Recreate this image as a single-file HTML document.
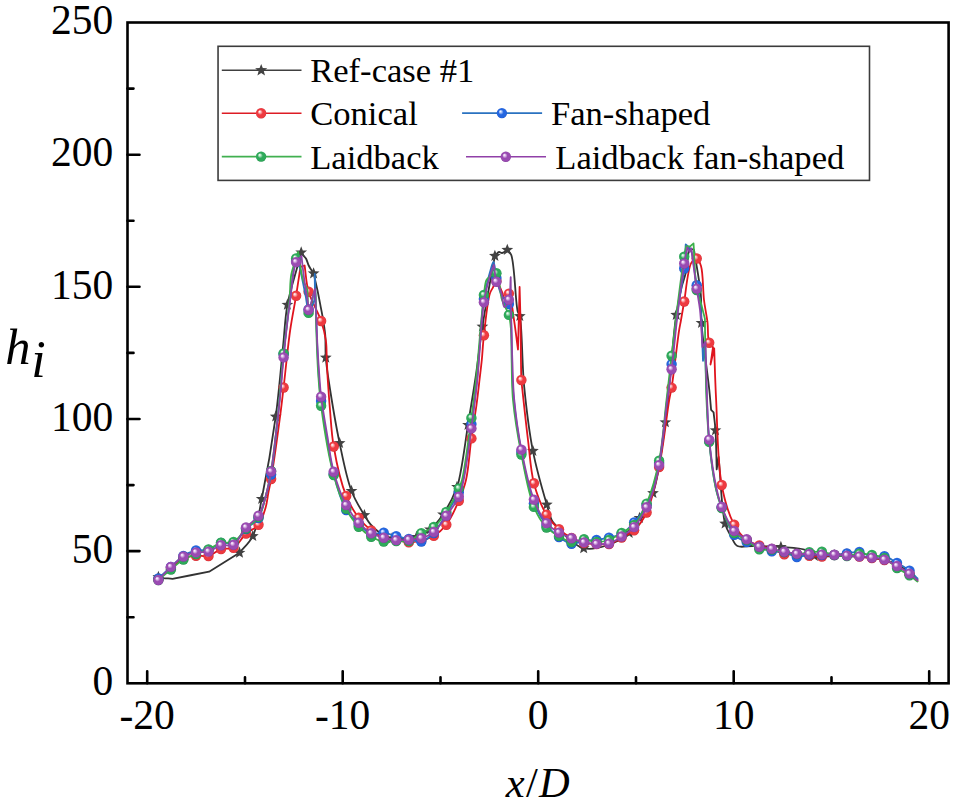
<!DOCTYPE html>
<html><head><meta charset="utf-8"><title>h_i vs x/D</title>
<style>html,body{margin:0;padding:0;background:#fff;width:956px;height:805px;overflow:hidden}
svg{display:block;font-family:"Liberation Serif",serif}</style></head>
<body><svg width="956" height="805" viewBox="0 0 956 805" font-family="Liberation Serif, serif"><defs>
<radialGradient id="gR" cx="0.5" cy="0.5" r="0.5" fx="0.34" fy="0.32"><stop offset="0" stop-color="#ffffff"/><stop offset="0.16" stop-color="#ffd0d2"/><stop offset="0.5" stop-color="#ee3a40"/><stop offset="0.88" stop-color="#ee3a40"/><stop offset="1" stop-color="#d02a30"/></radialGradient>
<radialGradient id="gB" cx="0.5" cy="0.5" r="0.5" fx="0.34" fy="0.32"><stop offset="0" stop-color="#ffffff"/><stop offset="0.16" stop-color="#c4d8ff"/><stop offset="0.5" stop-color="#2466e0"/><stop offset="0.88" stop-color="#2466e0"/><stop offset="1" stop-color="#1a52c4"/></radialGradient>
<radialGradient id="gG" cx="0.5" cy="0.5" r="0.5" fx="0.34" fy="0.32"><stop offset="0" stop-color="#ffffff"/><stop offset="0.16" stop-color="#c8ecd4"/><stop offset="0.5" stop-color="#2eaa5a"/><stop offset="0.88" stop-color="#2eaa5a"/><stop offset="1" stop-color="#1f9048"/></radialGradient>
<radialGradient id="gP" cx="0.5" cy="0.5" r="0.5" fx="0.34" fy="0.32"><stop offset="0" stop-color="#ffffff"/><stop offset="0.16" stop-color="#ecd4f4"/><stop offset="0.5" stop-color="#9a4bb2"/><stop offset="0.88" stop-color="#9a4bb2"/><stop offset="1" stop-color="#843c9c"/></radialGradient>
</defs><rect x="127.5" y="22.5" width="821.1" height="660.8" fill="none" stroke="#000" stroke-width="2.6"/><path d="M127.5 617.2H133.5 M127.5 551.1H139.5 M127.5 485.1H133.5 M127.5 419.0H139.5 M127.5 352.9H133.5 M127.5 286.8H139.5 M127.5 220.8H133.5 M127.5 154.7H139.5 M127.5 88.6H133.5 M147.2 683.3V671.3 M245.0 683.3V677.3 M342.7 683.3V671.3 M440.5 683.3V677.3 M538.2 683.3V671.3 M636.0 683.3V677.3 M733.7 683.3V671.3 M831.5 683.3V677.3 M929.2 683.3V671.3" stroke="#000" stroke-width="2.6" stroke-linecap="round" fill="none"/><text x="113.3" y="695.3" text-anchor="end" font-size="41.5">0</text><text x="113.3" y="563.3" text-anchor="end" font-size="41.5">50</text><text x="113.3" y="430.8" text-anchor="end" font-size="41.5">100</text><text x="113.3" y="298.8" text-anchor="end" font-size="41.5">150</text><text x="113.3" y="166.2" text-anchor="end" font-size="41.5">200</text><text x="113.3" y="33.9" text-anchor="end" font-size="41.5">250</text><text x="147.2" y="728.7" text-anchor="middle" font-size="41.5">-20</text><text x="342.7" y="728.7" text-anchor="middle" font-size="41.5">-10</text><text x="538.2" y="728.7" text-anchor="middle" font-size="41.5">0</text><text x="733.7" y="728.7" text-anchor="middle" font-size="41.5">10</text><text x="929.2" y="728.7" text-anchor="middle" font-size="41.5">20</text><text x="5.3" y="364.3" font-size="50.5" font-style="italic">h</text><text x="31.2" y="376.5" font-size="52" font-style="italic">i</text><text x="538.3" y="797.3" text-anchor="middle" font-size="42.5" letter-spacing="1.2"><tspan font-style="italic">x</tspan>/<tspan font-style="italic">D</tspan></text><rect x="218.05" y="46.3" width="651.45" height="134.1" fill="#fff" stroke="#3c3c3c" stroke-width="1.6"/><path d="M221.8 70.3H301.5" stroke="#404040" stroke-width="1.6"/><polygon points="261.2,63.9 262.8,68.1 267.3,68.3 263.8,71.1 265.0,75.5 261.2,73.0 257.4,75.5 258.6,71.1 255.1,68.3 259.6,68.1" fill="#424242"/><text x="310.2" y="82.3" font-size="34.6">Ref-case #1</text><path d="M221.8 113.3H301.5" stroke="#dd1c24" stroke-width="1.6"/><circle cx="261.1" cy="113.3" r="5.2" fill="url(#gR)"/><text x="310.2" y="125.3" font-size="34.6">Conical</text><path d="M221.8 156.6H301.5" stroke="#40b050" stroke-width="1.6"/><circle cx="261.1" cy="156.6" r="5.2" fill="url(#gG)"/><text x="310.2" y="168.6" font-size="34.6">Laidback</text><path d="M462.1 113.1H542.1" stroke="#2a72c0" stroke-width="1.6"/><circle cx="501.9" cy="113.1" r="5.2" fill="url(#gB)"/><text x="551.0" y="125.1" font-size="34.6">Fan-shaped</text><path d="M466.0 156.7H546.0" stroke="#9040a8" stroke-width="1.6"/><circle cx="505.8" cy="156.7" r="5.2" fill="url(#gP)"/><text x="555.3" y="168.7" font-size="34.6">Laidback fan-shaped</text><path d="M158.4 577.0 C160.1 577.4 161.9 577.7 163.6 578.1 C166.6 578.3 169.5 578.6 172.5 578.8 C184.7 576.4 196.9 574.1 209.1 571.7 C219.2 565.4 229.4 559.1 239.5 552.8 C243.9 547.2 249.3 543.2 252.8 536.1 C257.5 526.6 258.7 513.9 261.7 499.0 C266.2 477.0 272.1 443.0 275.7 416.6 C279.0 392.4 280.9 367.1 283.0 346.8 C284.7 331.0 284.9 318.3 287.4 304.8 C289.8 291.8 294.7 276.6 297.3 267.0 C298.9 261.0 299.9 257.3 301.2 252.5 C302.0 253.5 302.7 254.5 303.5 255.5 C304.3 256.5 305.2 257.2 306.0 258.5 C307.0 260.3 307.8 263.6 308.7 265.5 C309.4 266.9 309.9 267.8 310.7 269.0 C311.6 270.4 312.6 271.9 313.6 273.4 C314.9 278.9 316.2 284.4 317.4 290.0 C318.6 295.6 319.8 302.1 320.7 306.8 C321.4 310.2 321.8 312.2 322.4 315.7 C323.3 320.8 324.6 328.0 325.2 334.7 C325.8 342.0 325.2 350.1 325.8 357.7 C326.4 365.2 327.2 370.7 328.6 380.0 C331.0 395.7 335.5 423.6 339.6 443.1 C343.2 460.2 346.5 478.0 351.5 491.0 C355.2 500.7 360.7 509.1 364.4 515.2 C366.8 519.2 368.3 521.8 370.8 524.7 C373.3 527.6 376.1 530.4 379.5 532.6 C383.1 535.0 387.0 537.5 392.0 538.5 C398.7 539.8 409.7 539.0 416.5 537.0 C421.9 535.4 425.8 532.9 430.0 529.5 C434.7 525.7 438.9 520.5 443.0 514.5 C448.1 507.0 454.0 495.2 457.0 487.0 C459.3 480.8 459.6 477.1 461.0 470.0 C463.2 458.6 465.6 440.2 468.0 425.0 C470.4 409.5 473.1 394.0 475.5 378.0 C478.0 361.3 479.9 342.8 482.4 326.6 C484.6 312.0 487.3 297.6 489.5 285.0 C491.4 274.4 493.1 265.6 494.9 255.9 C496.3 254.6 497.6 252.3 499.0 252.0 C500.0 251.8 500.9 253.1 502.0 253.0 C503.5 252.8 505.5 250.9 507.3 249.9 C508.6 251.6 510.0 252.1 511.2 254.9 C514.7 263.4 515.4 303.2 517.7 311.5 C518.4 314.0 519.2 313.6 519.8 316.1 C522.2 325.6 521.9 363.9 524.2 386.8 C526.4 408.7 528.9 430.6 532.9 450.9 C536.6 469.7 543.1 492.1 546.8 504.6 C548.8 511.4 549.9 516.5 551.9 520.3 C553.2 522.8 554.4 523.7 556.3 525.9 C559.5 529.6 565.2 536.2 570.0 540.0 C574.4 543.4 578.4 547.0 583.7 548.2 C589.8 549.6 597.9 548.2 605.0 546.0 C613.1 543.5 623.3 538.3 629.2 533.0 C634.0 528.7 636.0 523.7 639.5 518.0 C643.9 510.8 649.2 503.9 653.0 493.1 C659.0 475.9 661.8 448.4 665.4 422.3 C669.8 390.3 672.6 339.2 676.2 314.9 C678.1 302.3 679.9 294.1 681.8 286.4 C683.1 281.1 684.6 278.2 685.7 273.0 C687.2 266.0 687.9 256.3 689.0 248.0 C690.7 248.7 692.3 249.3 694.0 250.0 C696.3 264.7 699.6 281.0 700.8 294.2 C701.7 304.8 700.7 311.4 701.5 323.0 C702.7 340.7 707.7 374.2 709.3 390.0 C710.2 398.6 710.5 403.3 711.1 409.9 C711.9 410.7 712.8 411.5 713.6 412.3 C714.2 418.3 715.0 423.1 715.5 430.3 C716.2 440.8 716.3 456.4 716.7 469.4 C717.3 465.3 718.0 461.1 718.6 457.0 C720.8 479.2 721.4 510.0 725.1 523.6 C726.8 530.0 729.1 533.1 731.3 537.0 C733.2 540.4 734.3 544.4 737.4 546.0 C741.0 547.9 746.7 545.9 752.5 546.0 C760.5 546.1 771.7 546.3 780.9 547.0 C789.5 547.7 800.1 547.8 806.0 550.1 C809.8 551.6 810.6 554.8 814.4 556.0 C820.4 557.9 830.6 555.6 840.0 556.0 C851.8 556.4 868.6 556.8 879.5 559.0 C887.6 560.7 893.7 562.6 900.0 566.0 C906.5 569.5 912.0 575.3 918.0 580.0" fill="none" stroke="#333333" stroke-width="1.8" stroke-linejoin="round"/><polygon points="158.4,570.8 160.0,574.9 164.3,575.1 160.9,577.8 162.0,582.0 158.4,579.6 154.8,582.0 155.9,577.8 152.5,575.1 156.8,574.9" fill="#424242"/><polygon points="239.5,546.6 241.1,550.7 245.4,550.9 242.0,553.6 243.1,557.8 239.5,555.4 235.9,557.8 237.0,553.6 233.6,550.9 237.9,550.7" fill="#424242"/><polygon points="252.8,529.9 254.4,534.0 258.7,534.2 255.3,536.9 256.4,541.1 252.8,538.8 249.2,541.1 250.3,536.9 246.9,534.2 251.2,534.0" fill="#424242"/><polygon points="261.7,492.8 263.3,496.9 267.6,497.1 264.2,499.8 265.3,504.0 261.7,501.6 258.1,504.0 259.2,499.8 255.8,497.1 260.1,496.9" fill="#424242"/><polygon points="275.7,410.4 277.3,414.5 281.6,414.7 278.2,417.4 279.3,421.6 275.7,419.2 272.1,421.6 273.2,417.4 269.8,414.7 274.1,414.5" fill="#424242"/><polygon points="287.4,298.6 289.0,302.7 293.3,302.9 289.9,305.6 291.0,309.8 287.4,307.4 283.8,309.8 284.9,305.6 281.5,302.9 285.8,302.7" fill="#424242"/><polygon points="301.2,246.3 302.8,250.4 307.1,250.6 303.7,253.3 304.8,257.5 301.2,255.2 297.6,257.5 298.7,253.3 295.3,250.6 299.6,250.4" fill="#424242"/><polygon points="313.6,267.2 315.2,271.3 319.5,271.5 316.1,274.2 317.2,278.4 313.6,276.0 310.0,278.4 311.1,274.2 307.7,271.5 312.0,271.3" fill="#424242"/><polygon points="325.8,351.5 327.4,355.6 331.7,355.8 328.3,358.5 329.4,362.7 325.8,360.3 322.2,362.7 323.3,358.5 319.9,355.8 324.2,355.6" fill="#424242"/><polygon points="339.6,436.9 341.2,441.0 345.5,441.2 342.1,443.9 343.2,448.1 339.6,445.8 336.0,448.1 337.1,443.9 333.7,441.2 338.0,441.0" fill="#424242"/><polygon points="351.5,484.8 353.1,488.9 357.4,489.1 354.0,491.8 355.1,496.0 351.5,493.6 347.9,496.0 349.0,491.8 345.6,489.1 349.9,488.9" fill="#424242"/><polygon points="364.4,509.0 366.0,513.1 370.3,513.3 366.9,516.0 368.0,520.2 364.4,517.9 360.8,520.2 361.9,516.0 358.5,513.3 362.8,513.1" fill="#424242"/><polygon points="392.0,532.3 393.6,536.4 397.9,536.6 394.5,539.3 395.6,543.5 392.0,541.1 388.4,543.5 389.5,539.3 386.1,536.6 390.4,536.4" fill="#424242"/><polygon points="416.5,530.8 418.1,534.9 422.4,535.1 419.0,537.8 420.1,542.0 416.5,539.6 412.9,542.0 414.0,537.8 410.6,535.1 414.9,534.9" fill="#424242"/><polygon points="430.0,523.3 431.6,527.4 435.9,527.6 432.5,530.3 433.6,534.5 430.0,532.1 426.4,534.5 427.5,530.3 424.1,527.6 428.4,527.4" fill="#424242"/><polygon points="443.0,508.3 444.6,512.4 448.9,512.6 445.5,515.3 446.6,519.5 443.0,517.1 439.4,519.5 440.5,515.3 437.1,512.6 441.4,512.4" fill="#424242"/><polygon points="457.0,480.8 458.6,484.9 462.9,485.1 459.5,487.8 460.6,492.0 457.0,489.6 453.4,492.0 454.5,487.8 451.1,485.1 455.4,484.9" fill="#424242"/><polygon points="468.0,418.8 469.6,422.9 473.9,423.1 470.5,425.8 471.6,430.0 468.0,427.6 464.4,430.0 465.5,425.8 462.1,423.1 466.4,422.9" fill="#424242"/><polygon points="482.4,320.4 484.0,324.5 488.3,324.7 484.9,327.4 486.0,331.6 482.4,329.2 478.8,331.6 479.9,327.4 476.5,324.7 480.8,324.5" fill="#424242"/><polygon points="494.9,249.7 496.5,253.8 500.8,254.0 497.4,256.7 498.5,260.9 494.9,258.6 491.3,260.9 492.4,256.7 489.0,254.0 493.3,253.8" fill="#424242"/><polygon points="507.3,243.7 508.9,247.8 513.2,248.0 509.8,250.7 510.9,254.9 507.3,252.6 503.7,254.9 504.8,250.7 501.4,248.0 505.7,247.8" fill="#424242"/><polygon points="519.8,309.9 521.4,314.0 525.7,314.2 522.3,316.9 523.4,321.1 519.8,318.8 516.2,321.1 517.3,316.9 513.9,314.2 518.2,314.0" fill="#424242"/><polygon points="532.9,444.7 534.5,448.8 538.8,449.0 535.4,451.7 536.5,455.9 532.9,453.5 529.3,455.9 530.4,451.7 527.0,449.0 531.3,448.8" fill="#424242"/><polygon points="546.8,498.4 548.4,502.5 552.7,502.7 549.3,505.4 550.4,509.6 546.8,507.2 543.2,509.6 544.3,505.4 540.9,502.7 545.2,502.5" fill="#424242"/><polygon points="583.7,542.0 585.3,546.1 589.6,546.3 586.2,549.0 587.3,553.2 583.7,550.9 580.1,553.2 581.2,549.0 577.8,546.3 582.1,546.1" fill="#424242"/><polygon points="629.2,526.8 630.8,530.9 635.1,531.1 631.7,533.8 632.8,538.0 629.2,535.6 625.6,538.0 626.7,533.8 623.3,531.1 627.6,530.9" fill="#424242"/><polygon points="639.5,511.8 641.1,515.9 645.4,516.1 642.0,518.8 643.1,523.0 639.5,520.6 635.9,523.0 637.0,518.8 633.6,516.1 637.9,515.9" fill="#424242"/><polygon points="653.0,486.9 654.6,491.0 658.9,491.2 655.5,493.9 656.6,498.1 653.0,495.8 649.4,498.1 650.5,493.9 647.1,491.2 651.4,491.0" fill="#424242"/><polygon points="665.4,416.1 667.0,420.2 671.3,420.4 667.9,423.1 669.0,427.3 665.4,424.9 661.8,427.3 662.9,423.1 659.5,420.4 663.8,420.2" fill="#424242"/><polygon points="676.2,308.7 677.8,312.8 682.1,313.0 678.7,315.7 679.8,319.9 676.2,317.5 672.6,319.9 673.7,315.7 670.3,313.0 674.6,312.8" fill="#424242"/><polygon points="701.5,316.8 703.1,320.9 707.4,321.1 704.0,323.8 705.1,328.0 701.5,325.6 697.9,328.0 699.0,323.8 695.6,321.1 699.9,320.9" fill="#424242"/><polygon points="715.5,424.1 717.1,428.2 721.4,428.4 718.0,431.1 719.1,435.3 715.5,432.9 711.9,435.3 713.0,431.1 709.6,428.4 713.9,428.2" fill="#424242"/><polygon points="725.1,517.4 726.7,521.5 731.0,521.7 727.6,524.4 728.7,528.6 725.1,526.2 721.5,528.6 722.6,524.4 719.2,521.7 723.5,521.5" fill="#424242"/><polygon points="780.9,540.8 782.5,544.9 786.8,545.1 783.4,547.8 784.5,552.0 780.9,549.6 777.3,552.0 778.4,547.8 775.0,545.1 779.3,544.9" fill="#424242"/><polygon points="814.4,549.8 816.0,553.9 820.3,554.1 816.9,556.8 818.0,561.0 814.4,558.6 810.8,561.0 811.9,556.8 808.5,554.1 812.8,553.9" fill="#424242"/><path d="M158.4 579.0 C162.6 575.3 166.7 571.5 170.9 568.0 C175.0 564.6 179.0 560.5 183.4 558.5 C187.4 556.7 191.8 556.1 196.0 555.7 C200.1 555.3 204.4 557.0 208.5 556.0 C212.8 554.9 216.7 550.5 221.0 549.1 C225.0 547.8 229.7 549.8 233.5 547.8 C238.2 545.4 241.6 537.5 246.0 533.5 C250.0 530.0 255.4 528.8 258.5 524.8 C262.0 520.5 263.8 513.6 265.5 508.0 C267.1 502.7 267.5 497.1 268.5 492.0 C269.4 487.4 270.1 484.9 271.1 479.0 C273.2 466.5 277.4 436.8 279.6 420.0 C281.3 407.6 282.1 399.9 283.6 387.5 C285.5 371.1 287.8 346.7 290.2 330.0 C292.1 317.1 294.3 306.7 296.1 295.8 C297.7 285.8 299.0 276.5 300.5 266.9 C301.9 266.4 303.2 266.0 304.6 265.5 C305.9 274.3 306.1 283.0 308.6 291.8 C311.4 301.5 318.2 312.2 321.1 321.0 C323.4 327.9 324.9 333.5 325.8 340.0 C326.8 346.5 326.5 353.3 326.8 360.0 C327.1 366.7 327.3 372.7 327.8 380.0 C328.4 389.0 329.1 399.5 330.0 410.0 C331.0 421.6 331.4 433.5 333.7 446.5 C336.3 461.8 341.0 483.0 346.2 495.9 C349.8 505.0 354.1 511.7 358.7 517.8 C362.6 522.9 366.8 527.1 371.2 530.5 C375.2 533.5 379.4 535.9 383.7 537.5 C387.8 539.0 392.1 539.2 396.2 540.0 C400.4 540.8 404.6 542.3 408.8 542.4 C412.9 542.5 417.2 541.6 421.3 540.5 C425.5 539.4 429.8 538.3 433.8 535.9 C438.2 533.2 442.5 529.6 446.3 524.7 C451.1 518.5 455.5 508.5 458.8 500.7 C461.9 493.7 464.1 488.2 466.0 480.0 C468.7 468.6 469.5 451.5 471.4 438.4 C473.0 426.6 475.1 415.3 476.5 405.0 C477.7 396.1 478.6 387.9 479.5 380.0 C480.3 373.0 481.1 367.0 481.8 360.0 C482.6 352.2 482.8 344.6 483.9 335.3 C485.2 323.2 487.5 301.1 489.9 293.6 C490.8 290.6 491.9 289.6 492.9 287.6 C494.0 285.4 495.1 281.0 496.4 281.0 C498.0 281.0 500.5 288.9 502.0 292.0 C503.1 294.3 503.3 297.8 504.5 298.0 C505.6 298.2 507.7 293.2 508.9 293.6 C511.4 294.3 512.2 308.8 513.6 317.4 C515.3 327.3 516.5 338.9 518.0 349.6 C518.5 328.7 519.1 307.9 519.6 287.0 C519.9 298.0 520.2 307.4 520.5 320.0 C520.9 337.0 520.8 368.4 521.4 380.0 C521.7 384.7 521.9 385.4 522.4 390.0 C523.5 400.3 526.0 423.9 528.0 440.0 C529.9 455.0 530.5 470.2 533.9 483.3 C537.0 494.8 541.5 506.5 546.5 514.7 C550.2 520.8 554.5 525.2 559.0 529.2 C562.9 532.8 567.2 535.7 571.5 538.0 C575.5 540.2 579.8 542.0 584.0 543.0 C588.1 544.0 592.4 543.8 596.5 544.0 C600.7 544.2 605.0 545.0 609.0 544.0 C613.4 542.9 617.4 539.8 621.6 537.5 C625.8 535.2 630.3 533.8 634.1 530.3 C638.8 526.0 643.0 520.2 646.6 512.5 C651.9 501.2 655.6 483.7 659.1 467.0 C663.4 446.9 666.9 413.4 669.2 400.0 C670.2 394.2 670.7 393.3 671.6 387.6 C673.6 375.6 677.2 342.5 679.0 331.0 C679.8 325.9 680.3 324.1 681.0 320.0 C681.9 314.6 682.9 308.8 684.2 301.5 C686.0 291.0 687.6 269.2 691.3 262.9 C692.9 260.3 695.1 258.2 696.7 258.5 C698.4 258.8 699.9 262.4 701.0 266.0 C703.2 273.1 702.8 289.9 704.0 300.0 C705.0 308.2 706.6 314.9 707.5 322.2 C708.3 329.2 707.4 338.6 709.2 342.8 C710.1 345.0 711.7 345.7 713.0 347.1 C712.2 352.9 711.3 358.7 710.5 364.5 C711.7 359.1 713.0 353.8 714.2 348.4 C714.8 365.4 715.1 380.1 716.1 399.3 C717.4 424.2 717.4 462.1 721.7 485.0 C724.7 501.0 728.9 514.9 734.2 524.7 C737.9 531.4 742.1 536.5 746.7 540.0 C750.6 542.9 755.0 543.9 759.3 545.4 C763.4 546.9 767.7 547.6 771.8 549.0 C776.0 550.5 780.0 553.4 784.3 554.2 C788.4 555.0 792.7 553.7 796.8 554.0 C801.0 554.3 805.2 555.5 809.3 555.9 C813.5 556.3 817.7 556.6 821.9 556.5 C826.0 556.4 830.2 555.4 834.4 555.0 C838.5 554.6 842.7 553.8 846.9 554.0 C851.1 554.2 855.2 555.8 859.4 556.5 C863.6 557.2 867.8 557.4 871.9 558.0 C876.1 558.6 880.4 558.7 884.4 560.0 C888.7 561.3 892.8 563.8 897.0 566.0 C901.2 568.3 905.9 570.9 909.5 573.6 C912.6 575.9 914.8 578.5 917.5 581.0" fill="none" stroke="#e0141e" stroke-width="1.8" stroke-linejoin="round" stroke-linecap="round"/><circle cx="158.4" cy="579.0" r="5.2" fill="url(#gR)"/><circle cx="170.9" cy="568.0" r="5.2" fill="url(#gR)"/><circle cx="183.4" cy="558.5" r="5.2" fill="url(#gR)"/><circle cx="196.0" cy="555.7" r="5.2" fill="url(#gR)"/><circle cx="208.5" cy="556.0" r="5.2" fill="url(#gR)"/><circle cx="221.0" cy="549.1" r="5.2" fill="url(#gR)"/><circle cx="233.5" cy="547.8" r="5.2" fill="url(#gR)"/><circle cx="246.0" cy="533.5" r="5.2" fill="url(#gR)"/><circle cx="258.5" cy="524.8" r="5.2" fill="url(#gR)"/><circle cx="271.1" cy="479.0" r="5.2" fill="url(#gR)"/><circle cx="283.6" cy="387.5" r="5.2" fill="url(#gR)"/><circle cx="296.1" cy="295.8" r="5.2" fill="url(#gR)"/><circle cx="308.6" cy="291.8" r="5.2" fill="url(#gR)"/><circle cx="321.1" cy="321.0" r="5.2" fill="url(#gR)"/><circle cx="333.7" cy="446.5" r="5.2" fill="url(#gR)"/><circle cx="346.2" cy="495.9" r="5.2" fill="url(#gR)"/><circle cx="358.7" cy="517.8" r="5.2" fill="url(#gR)"/><circle cx="371.2" cy="530.5" r="5.2" fill="url(#gR)"/><circle cx="383.7" cy="537.5" r="5.2" fill="url(#gR)"/><circle cx="396.2" cy="540.0" r="5.2" fill="url(#gR)"/><circle cx="408.8" cy="542.4" r="5.2" fill="url(#gR)"/><circle cx="421.3" cy="540.5" r="5.2" fill="url(#gR)"/><circle cx="433.8" cy="535.9" r="5.2" fill="url(#gR)"/><circle cx="446.3" cy="524.7" r="5.2" fill="url(#gR)"/><circle cx="458.8" cy="500.7" r="5.2" fill="url(#gR)"/><circle cx="471.4" cy="438.4" r="5.2" fill="url(#gR)"/><circle cx="483.9" cy="335.3" r="5.2" fill="url(#gR)"/><circle cx="496.4" cy="281.0" r="5.2" fill="url(#gR)"/><circle cx="508.9" cy="293.6" r="5.2" fill="url(#gR)"/><circle cx="521.4" cy="380.0" r="5.2" fill="url(#gR)"/><circle cx="533.9" cy="483.3" r="5.2" fill="url(#gR)"/><circle cx="546.5" cy="514.7" r="5.2" fill="url(#gR)"/><circle cx="559.0" cy="529.2" r="5.2" fill="url(#gR)"/><circle cx="571.5" cy="538.0" r="5.2" fill="url(#gR)"/><circle cx="584.0" cy="543.0" r="5.2" fill="url(#gR)"/><circle cx="596.5" cy="544.0" r="5.2" fill="url(#gR)"/><circle cx="609.0" cy="544.0" r="5.2" fill="url(#gR)"/><circle cx="621.6" cy="537.5" r="5.2" fill="url(#gR)"/><circle cx="634.1" cy="530.3" r="5.2" fill="url(#gR)"/><circle cx="646.6" cy="512.5" r="5.2" fill="url(#gR)"/><circle cx="659.1" cy="467.0" r="5.2" fill="url(#gR)"/><circle cx="671.6" cy="387.6" r="5.2" fill="url(#gR)"/><circle cx="684.2" cy="301.5" r="5.2" fill="url(#gR)"/><circle cx="696.7" cy="258.5" r="5.2" fill="url(#gR)"/><circle cx="709.2" cy="342.8" r="5.2" fill="url(#gR)"/><circle cx="721.7" cy="485.0" r="5.2" fill="url(#gR)"/><circle cx="734.2" cy="524.7" r="5.2" fill="url(#gR)"/><circle cx="746.7" cy="540.0" r="5.2" fill="url(#gR)"/><circle cx="759.3" cy="545.4" r="5.2" fill="url(#gR)"/><circle cx="771.8" cy="549.0" r="5.2" fill="url(#gR)"/><circle cx="784.3" cy="554.2" r="5.2" fill="url(#gR)"/><circle cx="796.8" cy="554.0" r="5.2" fill="url(#gR)"/><circle cx="809.3" cy="555.9" r="5.2" fill="url(#gR)"/><circle cx="821.9" cy="556.5" r="5.2" fill="url(#gR)"/><circle cx="834.4" cy="555.0" r="5.2" fill="url(#gR)"/><circle cx="846.9" cy="554.0" r="5.2" fill="url(#gR)"/><circle cx="859.4" cy="556.5" r="5.2" fill="url(#gR)"/><circle cx="871.9" cy="558.0" r="5.2" fill="url(#gR)"/><circle cx="884.4" cy="560.0" r="5.2" fill="url(#gR)"/><circle cx="897.0" cy="566.0" r="5.2" fill="url(#gR)"/><circle cx="909.5" cy="573.6" r="5.2" fill="url(#gR)"/><path d="M158.4 578.5 C162.6 574.7 166.7 570.8 170.9 567.0 C175.1 563.3 179.0 558.8 183.4 556.0 C187.4 553.4 191.7 551.4 196.0 550.4 C200.0 549.5 204.4 551.1 208.5 550.0 C212.8 548.8 216.7 544.1 221.0 543.0 C225.0 541.9 229.7 544.7 233.5 543.0 C238.2 540.9 241.7 533.3 246.0 529.0 C250.1 525.0 255.4 522.8 258.5 518.0 C262.2 512.5 263.4 504.2 265.5 497.0 C267.6 489.7 269.4 483.7 271.1 474.5 C273.6 460.3 275.5 439.0 277.5 420.0 C279.7 399.1 281.4 374.9 283.6 354.0 C285.6 335.1 287.7 316.5 290.0 300.0 C291.9 285.9 293.5 261.5 296.1 261.0 C297.3 260.8 298.7 265.7 300.0 268.0 C301.9 277.2 303.7 286.3 305.6 295.5 C306.6 300.2 307.0 309.2 308.6 309.5 C309.9 309.8 312.6 305.5 313.8 302.0 C315.8 295.8 314.5 283.3 314.8 274.0 C315.1 282.7 315.3 290.4 315.6 300.0 C316.0 311.9 316.4 326.7 317.0 340.0 C317.6 353.3 318.2 368.8 319.0 380.0 C319.6 388.1 319.9 391.9 321.1 401.0 C323.5 418.0 328.5 454.1 333.7 474.0 C337.3 488.3 341.0 501.1 346.2 510.0 C349.8 516.2 354.3 519.9 358.7 524.0 C362.7 527.8 366.7 532.7 371.2 534.0 C375.2 535.2 379.6 532.3 383.7 532.7 C387.9 533.1 392.1 535.1 396.2 536.2 C400.4 537.2 404.6 538.1 408.8 539.0 C412.9 539.9 417.3 542.3 421.3 541.5 C425.6 540.6 430.0 536.9 433.8 533.0 C438.5 528.2 442.2 520.6 446.3 514.0 C450.6 507.1 456.0 498.6 458.8 492.3 C460.9 487.7 461.6 485.7 463.0 480.0 C465.9 468.2 468.9 441.6 471.4 424.1 C473.5 408.5 475.2 396.9 477.0 380.0 C479.4 357.1 480.8 318.7 483.9 299.0 C485.7 287.5 488.1 278.8 490.0 272.0 C491.2 267.8 492.5 261.9 493.5 262.0 C494.7 262.1 495.1 272.6 496.4 278.0 C497.8 283.9 499.4 291.4 502.0 296.0 C503.9 299.4 507.4 300.6 508.9 304.0 C510.8 308.2 510.4 312.8 511.0 320.0 C512.2 335.1 511.1 367.4 513.0 390.0 C514.7 411.3 517.7 432.4 521.4 452.0 C524.8 470.1 528.6 490.3 533.9 503.5 C537.6 512.5 541.8 519.1 546.5 525.0 C550.3 529.9 554.6 533.8 559.0 537.0 C563.0 539.9 567.2 543.1 571.5 543.7 C575.6 544.3 579.8 541.6 584.0 541.0 C588.2 540.4 592.4 540.6 596.5 540.0 C600.7 539.4 604.9 538.6 609.0 537.6 C613.2 536.6 617.6 536.2 621.6 534.0 C626.1 531.5 630.1 526.9 634.1 522.4 C638.5 517.4 642.9 512.4 646.6 505.0 C651.8 494.4 655.9 478.6 659.1 463.0 C663.1 444.3 664.7 418.1 667.0 400.0 C668.7 386.4 670.1 377.0 671.6 364.1 C673.4 349.0 674.9 331.1 677.0 315.0 C679.1 299.3 682.7 281.5 684.2 268.5 C685.2 259.2 685.2 252.5 685.7 244.5 C686.8 245.4 687.9 246.4 689.0 247.3 C689.7 248.2 690.4 248.5 691.0 250.0 C693.1 255.0 694.9 276.1 696.7 285.3 C697.8 291.3 699.2 294.0 700.0 300.0 C701.3 309.1 701.5 324.2 702.0 335.0 C702.4 344.3 702.7 352.2 703.0 360.8 C703.7 355.5 704.3 350.3 705.0 345.0 C705.5 360.0 705.8 374.5 706.5 390.0 C707.2 406.5 707.6 424.3 709.2 441.0 C710.8 457.3 713.3 476.9 716.0 489.0 C717.7 496.5 719.2 500.4 721.7 507.0 C724.9 515.3 728.9 529.0 734.2 534.8 C737.9 538.8 742.5 539.9 746.7 542.0 C750.8 544.0 755.1 545.4 759.3 547.0 C763.4 548.5 767.6 550.5 771.8 551.3 C775.9 552.1 780.2 551.1 784.3 552.0 C788.6 553.0 792.6 556.7 796.8 557.1 C800.9 557.5 805.1 554.8 809.3 554.5 C813.5 554.2 817.7 554.9 821.9 555.0 C826.0 555.1 830.2 555.2 834.4 555.0 C838.6 554.8 842.7 554.0 846.9 553.5 C851.1 553.0 855.3 551.4 859.4 551.9 C863.7 552.5 867.7 556.3 871.9 557.0 C876.0 557.7 880.4 555.3 884.4 556.2 C888.8 557.2 892.8 560.6 897.0 563.0 C901.2 565.4 905.9 567.8 909.5 570.6 C912.6 573.0 914.8 575.9 917.5 578.5" fill="none" stroke="#2a72c0" stroke-width="1.8" stroke-linejoin="round" stroke-linecap="round"/><circle cx="158.4" cy="578.5" r="5.2" fill="url(#gB)"/><circle cx="170.9" cy="567.0" r="5.2" fill="url(#gB)"/><circle cx="183.4" cy="556.0" r="5.2" fill="url(#gB)"/><circle cx="196.0" cy="550.4" r="5.2" fill="url(#gB)"/><circle cx="208.5" cy="550.0" r="5.2" fill="url(#gB)"/><circle cx="221.0" cy="543.0" r="5.2" fill="url(#gB)"/><circle cx="233.5" cy="543.0" r="5.2" fill="url(#gB)"/><circle cx="246.0" cy="529.0" r="5.2" fill="url(#gB)"/><circle cx="258.5" cy="518.0" r="5.2" fill="url(#gB)"/><circle cx="271.1" cy="474.5" r="5.2" fill="url(#gB)"/><circle cx="283.6" cy="354.0" r="5.2" fill="url(#gB)"/><circle cx="296.1" cy="261.0" r="5.2" fill="url(#gB)"/><circle cx="308.6" cy="309.5" r="5.2" fill="url(#gB)"/><circle cx="321.1" cy="401.0" r="5.2" fill="url(#gB)"/><circle cx="333.7" cy="474.0" r="5.2" fill="url(#gB)"/><circle cx="346.2" cy="510.0" r="5.2" fill="url(#gB)"/><circle cx="358.7" cy="524.0" r="5.2" fill="url(#gB)"/><circle cx="371.2" cy="534.0" r="5.2" fill="url(#gB)"/><circle cx="383.7" cy="532.7" r="5.2" fill="url(#gB)"/><circle cx="396.2" cy="536.2" r="5.2" fill="url(#gB)"/><circle cx="408.8" cy="539.0" r="5.2" fill="url(#gB)"/><circle cx="421.3" cy="541.5" r="5.2" fill="url(#gB)"/><circle cx="433.8" cy="533.0" r="5.2" fill="url(#gB)"/><circle cx="446.3" cy="514.0" r="5.2" fill="url(#gB)"/><circle cx="458.8" cy="492.3" r="5.2" fill="url(#gB)"/><circle cx="471.4" cy="424.1" r="5.2" fill="url(#gB)"/><circle cx="483.9" cy="299.0" r="5.2" fill="url(#gB)"/><circle cx="496.4" cy="278.0" r="5.2" fill="url(#gB)"/><circle cx="508.9" cy="304.0" r="5.2" fill="url(#gB)"/><circle cx="521.4" cy="452.0" r="5.2" fill="url(#gB)"/><circle cx="533.9" cy="503.5" r="5.2" fill="url(#gB)"/><circle cx="546.5" cy="525.0" r="5.2" fill="url(#gB)"/><circle cx="559.0" cy="537.0" r="5.2" fill="url(#gB)"/><circle cx="571.5" cy="543.7" r="5.2" fill="url(#gB)"/><circle cx="584.0" cy="541.0" r="5.2" fill="url(#gB)"/><circle cx="596.5" cy="540.0" r="5.2" fill="url(#gB)"/><circle cx="609.0" cy="537.6" r="5.2" fill="url(#gB)"/><circle cx="621.6" cy="534.0" r="5.2" fill="url(#gB)"/><circle cx="634.1" cy="522.4" r="5.2" fill="url(#gB)"/><circle cx="646.6" cy="505.0" r="5.2" fill="url(#gB)"/><circle cx="659.1" cy="463.0" r="5.2" fill="url(#gB)"/><circle cx="671.6" cy="364.1" r="5.2" fill="url(#gB)"/><circle cx="684.2" cy="268.5" r="5.2" fill="url(#gB)"/><circle cx="696.7" cy="285.3" r="5.2" fill="url(#gB)"/><circle cx="709.2" cy="441.0" r="5.2" fill="url(#gB)"/><circle cx="721.7" cy="507.0" r="5.2" fill="url(#gB)"/><circle cx="734.2" cy="534.8" r="5.2" fill="url(#gB)"/><circle cx="746.7" cy="542.0" r="5.2" fill="url(#gB)"/><circle cx="759.3" cy="547.0" r="5.2" fill="url(#gB)"/><circle cx="771.8" cy="551.3" r="5.2" fill="url(#gB)"/><circle cx="784.3" cy="552.0" r="5.2" fill="url(#gB)"/><circle cx="796.8" cy="557.1" r="5.2" fill="url(#gB)"/><circle cx="809.3" cy="554.5" r="5.2" fill="url(#gB)"/><circle cx="821.9" cy="555.0" r="5.2" fill="url(#gB)"/><circle cx="834.4" cy="555.0" r="5.2" fill="url(#gB)"/><circle cx="846.9" cy="553.5" r="5.2" fill="url(#gB)"/><circle cx="859.4" cy="551.9" r="5.2" fill="url(#gB)"/><circle cx="871.9" cy="557.0" r="5.2" fill="url(#gB)"/><circle cx="884.4" cy="556.2" r="5.2" fill="url(#gB)"/><circle cx="897.0" cy="563.0" r="5.2" fill="url(#gB)"/><circle cx="909.5" cy="570.6" r="5.2" fill="url(#gB)"/><path d="M158.4 580.0 C162.6 576.5 166.7 572.9 170.9 569.5 C175.1 566.1 179.1 562.1 183.4 559.5 C187.5 557.1 191.8 555.7 196.0 554.0 C200.1 552.3 204.4 551.3 208.5 549.5 C212.7 547.6 216.7 544.0 221.0 542.8 C225.0 541.6 229.7 543.8 233.5 542.0 C238.2 539.8 241.8 532.7 246.0 528.5 C250.1 524.4 255.4 521.8 258.5 517.0 C262.1 511.6 263.5 504.2 265.5 497.0 C267.7 489.0 269.3 481.2 271.1 471.0 C273.5 456.9 275.5 438.1 277.5 420.0 C279.7 399.3 281.5 374.5 283.6 353.5 C285.5 334.7 288.2 314.5 289.5 300.0 C290.4 290.1 289.9 282.4 291.2 275.0 C292.3 268.8 294.8 262.7 296.1 258.4 C296.9 255.7 297.4 254.0 298.1 251.8 C299.7 261.2 301.0 273.3 303.0 280.0 C304.2 283.9 306.1 285.2 307.0 289.0 C308.5 295.0 307.3 312.8 308.6 312.9 C309.9 313.0 313.7 289.8 315.0 290.0 C316.4 290.2 315.6 308.7 316.0 320.0 C316.5 334.6 317.0 354.7 318.0 370.0 C318.8 382.9 319.3 392.0 321.1 405.8 C323.7 425.2 328.5 456.2 333.7 475.0 C337.3 488.5 341.3 499.6 346.2 508.8 C349.9 516.0 354.1 521.9 358.7 526.7 C362.6 530.9 366.8 534.2 371.2 536.7 C375.2 539.0 379.5 540.8 383.7 541.5 C387.8 542.2 392.1 541.1 396.2 541.0 C400.4 540.9 404.7 542.2 408.8 541.0 C413.1 539.7 417.0 535.5 421.3 533.1 C425.4 530.8 429.9 530.0 433.8 527.0 C438.4 523.4 442.4 517.7 446.3 511.9 C450.9 505.1 456.1 494.3 458.8 488.4 C460.4 485.0 460.9 484.2 462.0 480.0 C464.9 468.9 468.9 436.1 471.4 417.9 C473.3 403.7 474.4 395.2 476.0 380.0 C478.4 357.3 481.6 311.7 483.9 295.0 C484.8 287.9 484.9 283.1 486.5 280.0 C487.4 278.2 488.6 277.6 490.0 276.5 C491.7 275.2 494.7 272.4 496.4 273.2 C499.8 274.8 499.5 292.5 502.0 300.0 C503.9 305.8 507.4 309.8 508.9 314.9 C510.3 319.8 510.4 323.1 511.0 330.0 C512.2 344.8 511.0 378.2 513.0 400.0 C514.8 419.4 517.9 436.7 521.4 454.6 C524.9 472.3 528.5 493.8 533.9 506.9 C537.6 515.7 541.7 522.5 546.5 527.5 C550.2 531.5 554.7 533.4 559.0 535.9 C563.1 538.3 567.2 541.6 571.5 542.1 C575.6 542.6 579.8 539.3 584.0 539.3 C588.2 539.3 592.3 541.9 596.5 542.0 C600.7 542.1 605.0 541.4 609.0 540.0 C613.4 538.5 617.4 535.4 621.6 532.9 C625.8 530.4 630.3 528.9 634.1 525.0 C638.9 520.0 642.9 512.2 646.6 503.6 C651.6 492.0 655.9 476.5 659.1 460.8 C662.9 442.4 664.3 418.7 666.5 400.0 C668.4 384.1 669.9 370.7 671.6 355.8 C673.4 340.7 675.0 325.8 677.0 310.0 C679.1 292.9 682.4 267.7 684.2 256.8 C685.0 251.9 685.5 249.7 686.2 246.2 C687.5 246.3 688.7 246.4 690.0 246.5 C691.2 245.5 692.3 244.4 693.5 243.4 C694.6 258.9 694.8 280.2 696.7 290.0 C697.6 294.6 698.8 296.1 700.0 300.0 C701.6 305.2 703.3 312.4 704.9 318.6 C705.1 332.4 705.2 346.3 705.5 360.0 C705.8 373.4 705.9 386.5 706.5 400.0 C707.1 413.8 707.7 427.5 709.2 441.8 C710.8 457.1 713.3 476.9 716.0 489.0 C717.7 496.8 719.1 501.4 721.7 508.0 C724.8 515.9 729.1 527.6 734.2 533.0 C737.9 536.9 742.7 537.4 746.7 540.0 C751.0 542.7 754.8 547.7 759.3 549.2 C763.2 550.6 767.6 549.0 771.8 549.5 C776.0 550.0 780.1 551.2 784.3 552.0 C788.5 552.7 792.6 554.0 796.8 554.0 C801.0 554.0 805.2 552.6 809.3 552.2 C813.5 551.8 817.7 551.3 821.9 551.8 C826.1 552.3 830.2 554.3 834.4 555.0 C838.5 555.7 842.7 556.2 846.9 556.0 C851.1 555.8 855.2 553.8 859.4 553.6 C863.6 553.4 867.8 554.3 871.9 555.0 C876.1 555.7 880.5 556.1 884.4 558.0 C888.9 560.2 892.7 565.1 897.0 568.0 C901.0 570.8 905.8 572.8 909.5 575.3 C912.5 577.4 914.8 579.4 917.5 581.5" fill="none" stroke="#3cb04a" stroke-width="1.8" stroke-linejoin="round" stroke-linecap="round"/><circle cx="158.4" cy="580.0" r="5.2" fill="url(#gG)"/><circle cx="170.9" cy="569.5" r="5.2" fill="url(#gG)"/><circle cx="183.4" cy="559.5" r="5.2" fill="url(#gG)"/><circle cx="196.0" cy="554.0" r="5.2" fill="url(#gG)"/><circle cx="208.5" cy="549.5" r="5.2" fill="url(#gG)"/><circle cx="221.0" cy="542.8" r="5.2" fill="url(#gG)"/><circle cx="233.5" cy="542.0" r="5.2" fill="url(#gG)"/><circle cx="246.0" cy="528.5" r="5.2" fill="url(#gG)"/><circle cx="258.5" cy="517.0" r="5.2" fill="url(#gG)"/><circle cx="271.1" cy="471.0" r="5.2" fill="url(#gG)"/><circle cx="283.6" cy="353.5" r="5.2" fill="url(#gG)"/><circle cx="296.1" cy="258.4" r="5.2" fill="url(#gG)"/><circle cx="308.6" cy="312.9" r="5.2" fill="url(#gG)"/><circle cx="321.1" cy="405.8" r="5.2" fill="url(#gG)"/><circle cx="333.7" cy="475.0" r="5.2" fill="url(#gG)"/><circle cx="346.2" cy="508.8" r="5.2" fill="url(#gG)"/><circle cx="358.7" cy="526.7" r="5.2" fill="url(#gG)"/><circle cx="371.2" cy="536.7" r="5.2" fill="url(#gG)"/><circle cx="383.7" cy="541.5" r="5.2" fill="url(#gG)"/><circle cx="396.2" cy="541.0" r="5.2" fill="url(#gG)"/><circle cx="408.8" cy="541.0" r="5.2" fill="url(#gG)"/><circle cx="421.3" cy="533.1" r="5.2" fill="url(#gG)"/><circle cx="433.8" cy="527.0" r="5.2" fill="url(#gG)"/><circle cx="446.3" cy="511.9" r="5.2" fill="url(#gG)"/><circle cx="458.8" cy="488.4" r="5.2" fill="url(#gG)"/><circle cx="471.4" cy="417.9" r="5.2" fill="url(#gG)"/><circle cx="483.9" cy="295.0" r="5.2" fill="url(#gG)"/><circle cx="496.4" cy="273.2" r="5.2" fill="url(#gG)"/><circle cx="508.9" cy="314.9" r="5.2" fill="url(#gG)"/><circle cx="521.4" cy="454.6" r="5.2" fill="url(#gG)"/><circle cx="533.9" cy="506.9" r="5.2" fill="url(#gG)"/><circle cx="546.5" cy="527.5" r="5.2" fill="url(#gG)"/><circle cx="559.0" cy="535.9" r="5.2" fill="url(#gG)"/><circle cx="571.5" cy="542.1" r="5.2" fill="url(#gG)"/><circle cx="584.0" cy="539.3" r="5.2" fill="url(#gG)"/><circle cx="596.5" cy="542.0" r="5.2" fill="url(#gG)"/><circle cx="609.0" cy="540.0" r="5.2" fill="url(#gG)"/><circle cx="621.6" cy="532.9" r="5.2" fill="url(#gG)"/><circle cx="634.1" cy="525.0" r="5.2" fill="url(#gG)"/><circle cx="646.6" cy="503.6" r="5.2" fill="url(#gG)"/><circle cx="659.1" cy="460.8" r="5.2" fill="url(#gG)"/><circle cx="671.6" cy="355.8" r="5.2" fill="url(#gG)"/><circle cx="684.2" cy="256.8" r="5.2" fill="url(#gG)"/><circle cx="696.7" cy="290.0" r="5.2" fill="url(#gG)"/><circle cx="709.2" cy="441.8" r="5.2" fill="url(#gG)"/><circle cx="721.7" cy="508.0" r="5.2" fill="url(#gG)"/><circle cx="734.2" cy="533.0" r="5.2" fill="url(#gG)"/><circle cx="746.7" cy="540.0" r="5.2" fill="url(#gG)"/><circle cx="759.3" cy="549.2" r="5.2" fill="url(#gG)"/><circle cx="771.8" cy="549.5" r="5.2" fill="url(#gG)"/><circle cx="784.3" cy="552.0" r="5.2" fill="url(#gG)"/><circle cx="796.8" cy="554.0" r="5.2" fill="url(#gG)"/><circle cx="809.3" cy="552.2" r="5.2" fill="url(#gG)"/><circle cx="821.9" cy="551.8" r="5.2" fill="url(#gG)"/><circle cx="834.4" cy="555.0" r="5.2" fill="url(#gG)"/><circle cx="846.9" cy="556.0" r="5.2" fill="url(#gG)"/><circle cx="859.4" cy="553.6" r="5.2" fill="url(#gG)"/><circle cx="871.9" cy="555.0" r="5.2" fill="url(#gG)"/><circle cx="884.4" cy="558.0" r="5.2" fill="url(#gG)"/><circle cx="897.0" cy="568.0" r="5.2" fill="url(#gG)"/><circle cx="909.5" cy="575.3" r="5.2" fill="url(#gG)"/><path d="M158.4 580.0 C162.6 575.6 166.6 570.9 170.9 566.9 C175.0 563.1 179.0 558.9 183.4 556.5 C187.4 554.3 191.7 553.2 196.0 552.4 C200.1 551.6 204.4 552.7 208.5 551.6 C212.8 550.4 216.7 546.3 221.0 545.2 C225.0 544.2 229.8 546.8 233.5 544.8 C238.4 542.2 241.6 532.4 246.0 527.4 C250.0 522.9 255.3 520.5 258.5 515.7 C262.0 510.5 263.5 503.8 265.5 497.0 C267.8 489.2 269.3 481.5 271.1 471.5 C273.5 457.4 275.8 434.9 277.5 420.0 C278.8 408.7 279.8 400.2 280.8 390.0 C281.8 379.4 282.3 369.8 283.6 357.4 C285.2 340.9 287.9 316.8 290.2 299.6 C292.1 285.7 292.8 269.1 296.1 262.1 C297.6 258.9 299.7 258.0 301.5 256.0 C302.4 264.0 303.2 272.0 304.3 280.0 C305.4 287.9 307.3 298.3 308.0 303.6 C308.3 306.3 308.1 309.7 308.6 309.8 C309.6 309.9 312.9 295.9 315.0 289.0 C315.4 297.7 315.8 306.0 316.2 315.0 C316.6 324.9 316.9 335.4 317.4 345.9 C318.0 356.9 318.9 370.2 319.6 379.5 C320.1 386.2 320.3 389.8 321.1 396.7 C322.4 407.3 325.3 424.1 327.5 437.0 C329.5 449.0 330.5 460.5 333.7 471.8 C336.8 483.1 341.3 495.9 346.2 505.0 C349.9 512.1 354.2 517.8 358.7 522.7 C362.6 527.0 366.8 530.7 371.2 533.2 C375.2 535.5 379.5 536.5 383.7 537.7 C387.9 538.8 392.1 539.8 396.2 540.1 C400.4 540.4 404.6 540.0 408.8 539.7 C412.9 539.4 417.2 539.4 421.3 538.2 C425.6 536.9 430.0 535.1 433.8 532.0 C438.4 528.2 442.2 521.5 446.3 515.8 C450.6 509.8 455.9 503.2 458.8 496.8 C461.4 491.2 462.0 487.2 463.6 480.0 C466.3 467.6 469.0 445.3 471.4 428.4 C473.6 412.0 475.4 398.1 477.3 380.0 C479.7 357.1 480.9 321.2 483.9 302.2 C485.6 291.1 488.0 282.9 490.0 276.0 C491.3 271.4 492.6 268.5 493.9 264.8 C494.7 270.4 495.1 277.6 496.4 281.7 C497.2 284.3 498.4 285.5 499.3 287.6 C500.2 289.8 501.1 291.9 501.8 294.6 C502.8 298.1 502.9 306.7 504.3 307.0 C505.5 307.2 507.8 303.0 508.9 299.7 C510.7 294.4 510.1 284.7 510.7 277.2 C510.8 288.9 510.9 299.7 511.1 312.4 C511.4 327.5 511.8 346.6 512.4 362.0 C512.9 375.3 512.9 386.0 514.2 399.3 C515.7 414.8 518.1 432.9 521.4 449.6 C524.7 466.4 528.8 486.3 533.9 499.6 C537.6 509.2 541.6 517.4 546.5 523.1 C550.2 527.5 554.7 530.0 559.0 532.6 C563.0 535.0 567.3 536.6 571.5 538.2 C575.6 539.8 579.8 541.4 584.0 542.4 C588.1 543.3 592.4 543.7 596.5 543.9 C600.7 544.1 605.0 544.7 609.0 543.6 C613.4 542.4 617.5 539.2 621.6 536.5 C625.8 533.7 630.3 531.3 634.1 527.1 C638.8 522.0 643.3 513.8 646.6 507.3 C649.6 501.5 651.5 496.4 653.5 490.0 C655.8 482.5 657.3 475.4 659.1 465.1 C662.0 448.6 664.9 417.7 667.3 400.0 C668.9 387.8 670.2 380.9 671.6 369.2 C673.6 353.7 675.4 332.8 677.5 315.0 C679.6 297.6 682.2 275.8 684.2 263.5 C685.3 256.6 686.3 252.7 687.3 247.3 C688.0 248.9 688.8 250.4 689.5 252.0 C690.1 250.8 690.7 249.6 691.3 248.4 C693.1 261.8 695.0 277.3 696.7 288.6 C697.9 296.9 699.1 301.9 700.0 310.0 C701.2 320.6 701.6 334.7 702.4 347.0 C703.4 345.3 704.5 343.7 705.5 342.0 C705.8 354.7 706.1 368.1 706.5 380.0 C706.8 390.6 707.0 400.0 707.5 410.0 C707.9 419.9 708.0 428.5 709.2 439.6 C710.7 454.1 714.0 477.0 716.7 489.3 C718.3 496.7 719.2 500.7 721.7 506.9 C724.7 514.4 729.2 525.4 734.2 530.9 C737.9 535.0 742.5 536.5 746.7 539.2 C750.9 541.8 754.9 545.1 759.3 546.7 C763.3 548.2 767.6 548.0 771.8 548.8 C776.0 549.6 780.1 550.9 784.3 551.7 C788.5 552.5 792.6 553.4 796.8 553.8 C801.0 554.2 805.2 553.9 809.3 554.0 C813.5 554.1 817.7 554.5 821.9 554.6 C826.0 554.7 830.2 554.5 834.4 554.7 C838.5 554.9 842.7 555.3 846.9 555.6 C851.1 555.9 855.2 556.1 859.4 556.4 C863.6 556.7 867.8 557.1 871.9 557.6 C876.1 558.1 880.4 558.3 884.4 559.6 C888.7 561.0 892.8 563.7 897.0 566.0 C901.2 568.4 905.8 571.0 909.5 573.6 C912.5 575.8 914.8 578.0 917.5 580.2" fill="none" stroke="#8e44a8" stroke-width="1.8" stroke-linejoin="round" stroke-linecap="round"/><circle cx="158.4" cy="580.0" r="5.2" fill="url(#gP)"/><circle cx="170.9" cy="566.9" r="5.2" fill="url(#gP)"/><circle cx="183.4" cy="556.5" r="5.2" fill="url(#gP)"/><circle cx="196.0" cy="552.4" r="5.2" fill="url(#gP)"/><circle cx="208.5" cy="551.6" r="5.2" fill="url(#gP)"/><circle cx="221.0" cy="545.2" r="5.2" fill="url(#gP)"/><circle cx="233.5" cy="544.8" r="5.2" fill="url(#gP)"/><circle cx="246.0" cy="527.4" r="5.2" fill="url(#gP)"/><circle cx="258.5" cy="515.7" r="5.2" fill="url(#gP)"/><circle cx="271.1" cy="471.5" r="5.2" fill="url(#gP)"/><circle cx="283.6" cy="357.4" r="5.2" fill="url(#gP)"/><circle cx="296.1" cy="262.1" r="5.2" fill="url(#gP)"/><circle cx="308.6" cy="309.8" r="5.2" fill="url(#gP)"/><circle cx="321.1" cy="396.7" r="5.2" fill="url(#gP)"/><circle cx="333.7" cy="471.8" r="5.2" fill="url(#gP)"/><circle cx="346.2" cy="505.0" r="5.2" fill="url(#gP)"/><circle cx="358.7" cy="522.7" r="5.2" fill="url(#gP)"/><circle cx="371.2" cy="533.2" r="5.2" fill="url(#gP)"/><circle cx="383.7" cy="537.7" r="5.2" fill="url(#gP)"/><circle cx="396.2" cy="540.1" r="5.2" fill="url(#gP)"/><circle cx="408.8" cy="539.7" r="5.2" fill="url(#gP)"/><circle cx="421.3" cy="538.2" r="5.2" fill="url(#gP)"/><circle cx="433.8" cy="532.0" r="5.2" fill="url(#gP)"/><circle cx="446.3" cy="515.8" r="5.2" fill="url(#gP)"/><circle cx="458.8" cy="496.8" r="5.2" fill="url(#gP)"/><circle cx="471.4" cy="428.4" r="5.2" fill="url(#gP)"/><circle cx="483.9" cy="302.2" r="5.2" fill="url(#gP)"/><circle cx="496.4" cy="281.7" r="5.2" fill="url(#gP)"/><circle cx="508.9" cy="299.7" r="5.2" fill="url(#gP)"/><circle cx="521.4" cy="449.6" r="5.2" fill="url(#gP)"/><circle cx="533.9" cy="499.6" r="5.2" fill="url(#gP)"/><circle cx="546.5" cy="523.1" r="5.2" fill="url(#gP)"/><circle cx="559.0" cy="532.6" r="5.2" fill="url(#gP)"/><circle cx="571.5" cy="538.2" r="5.2" fill="url(#gP)"/><circle cx="584.0" cy="542.4" r="5.2" fill="url(#gP)"/><circle cx="596.5" cy="543.9" r="5.2" fill="url(#gP)"/><circle cx="609.0" cy="543.6" r="5.2" fill="url(#gP)"/><circle cx="621.6" cy="536.5" r="5.2" fill="url(#gP)"/><circle cx="634.1" cy="527.1" r="5.2" fill="url(#gP)"/><circle cx="646.6" cy="507.3" r="5.2" fill="url(#gP)"/><circle cx="659.1" cy="465.1" r="5.2" fill="url(#gP)"/><circle cx="671.6" cy="369.2" r="5.2" fill="url(#gP)"/><circle cx="684.2" cy="263.5" r="5.2" fill="url(#gP)"/><circle cx="696.7" cy="288.6" r="5.2" fill="url(#gP)"/><circle cx="709.2" cy="439.6" r="5.2" fill="url(#gP)"/><circle cx="721.7" cy="506.9" r="5.2" fill="url(#gP)"/><circle cx="734.2" cy="530.9" r="5.2" fill="url(#gP)"/><circle cx="746.7" cy="539.2" r="5.2" fill="url(#gP)"/><circle cx="759.3" cy="546.7" r="5.2" fill="url(#gP)"/><circle cx="771.8" cy="548.8" r="5.2" fill="url(#gP)"/><circle cx="784.3" cy="551.7" r="5.2" fill="url(#gP)"/><circle cx="796.8" cy="553.8" r="5.2" fill="url(#gP)"/><circle cx="809.3" cy="554.0" r="5.2" fill="url(#gP)"/><circle cx="821.9" cy="554.6" r="5.2" fill="url(#gP)"/><circle cx="834.4" cy="554.7" r="5.2" fill="url(#gP)"/><circle cx="846.9" cy="555.6" r="5.2" fill="url(#gP)"/><circle cx="859.4" cy="556.4" r="5.2" fill="url(#gP)"/><circle cx="871.9" cy="557.6" r="5.2" fill="url(#gP)"/><circle cx="884.4" cy="559.6" r="5.2" fill="url(#gP)"/><circle cx="897.0" cy="566.0" r="5.2" fill="url(#gP)"/><circle cx="909.5" cy="573.6" r="5.2" fill="url(#gP)"/></svg></body></html>
